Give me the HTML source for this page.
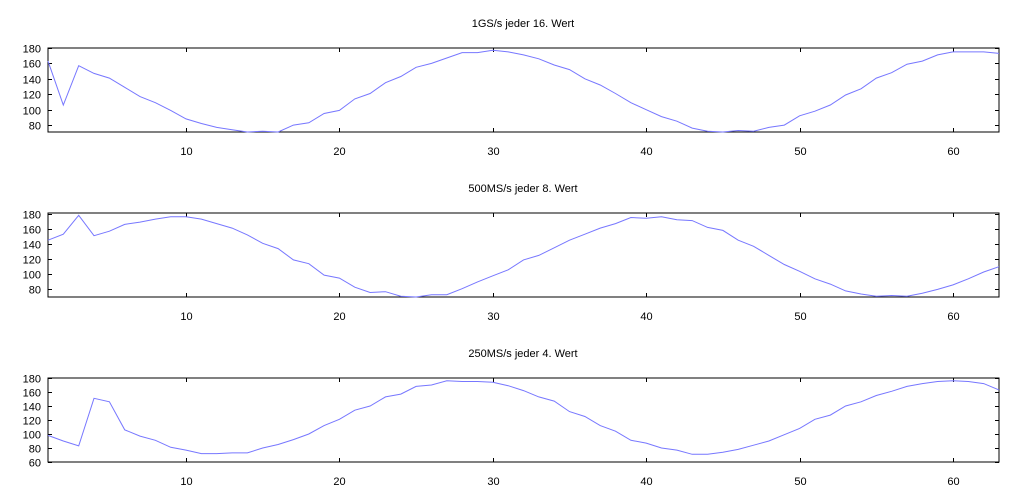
<!DOCTYPE html>
<html><head><meta charset="utf-8"><style>
html,body{margin:0;padding:0;background:#fff;}
svg{display:block;font-family:"Liberation Sans",sans-serif;}
</style></head><body>
<svg id="chart" width="1024" height="493" viewBox="0 0 1024 493"></svg>
<script>
const xs = Array.from({length:63},(_,i)=>i+1);
const series1GS = [163,106,157,147,141,129,117,109,99,88,82,77,74,71,72,71,80,83,95,99,114,121,135,143,155,160,167,174,174,177,175,171,166,158,152,140,132,121,109,100,91,85,76,72,71,73,72,77,80,92,98,106,119,127,141,148,159,163,171,175,175,175,173];
const series500MS = [145,153,178,151,157,166,169,173,176,176,173,167,161,152,141,134,119,114,99,95,83,76,77,71,70,73,73,81,90,98,106,119,125,135,145,153,161,167,175,174,176,172,171,162,158,145,137,125,113,104,94,87,78,74,71,72,71,75,80,86,94,103,110];
const series250MS = [98,90,83,151,146,106,97,91,81,77,72,72,73,73,80,85,92,100,112,121,134,140,153,157,168,170,176,175,175,174,169,162,153,147,132,125,112,104,91,87,80,77,71,71,74,78,84,90,99,108,121,127,140,146,155,161,168,172,175,176,175,172,163];
const titles = ["1GS/s jeder 16. Wert","500MS/s jeder 8. Wert","250MS/s jeder 4. Wert"];
const xTicks = [10,20,30,40,50,60];
const yTicks1 = [80,100,120,140,160,180];
const yTicks3 = [60,80,100,120,140,160,180];

const NS="http://www.w3.org/2000/svg";
const svg=document.getElementById('chart');
function mk(tag,attrs,parent){const e=document.createElementNS(NS,tag);for(const k in attrs)e.setAttribute(k,attrs[k]);(parent||svg).appendChild(e);return e;}
const panels=[
 {data:series1GS,title:titles[0],top:48,bottom:132,ymin:71,ymax:180,yt:yTicks1,key:'1gs'},
 {data:series500MS,title:titles[1],top:213,bottom:297,ymin:70,ymax:181,yt:yTicks1,key:'500ms'},
 {data:series250MS,title:titles[2],top:378,bottom:462,ymin:60,ymax:180,yt:yTicks3,key:'250ms'}
];
const L=48,R=999,xmin=1,xmax=63;
const xScale=v=>L+(v-xmin)/(xmax-xmin)*(R-L);
panels.forEach(p=>{
 const g=mk('g',{});
 
 
 const yScale=v=>p.bottom-(v-p.ymin)/(p.ymax-p.ymin)*(p.bottom-p.top);
 const t=mk('text',{x:523,y:p.top-21,'text-anchor':'middle','font-size':'11',fill:'#000'},g);
 t.textContent=p.title;
 
 
 const fr=mk('rect',{x:L,y:p.top,width:R-L,height:p.bottom-p.top,fill:'none',stroke:'#000','stroke-width':1,'shape-rendering':'crispEdges'},g);
 
 
 xTicks.forEach(v=>{
  const x=Math.round(xScale(v))+0.5;
  mk('line',{x1:x,x2:x,y1:p.top,y2:p.top+4,stroke:'#000'},g);
  mk('line',{x1:x,x2:x,y1:p.bottom,y2:p.bottom-4,stroke:'#000'},g);
  const tl=mk('text',{x:x,y:p.bottom+23,'text-anchor':'middle','font-size':'11',fill:'#000'},g);
  tl.textContent=v;
  
  
 });
 p.yt.forEach(v=>{
  const y=Math.round(yScale(v))+0.5;
  mk('line',{x1:L,x2:L+4,y1:y,y2:y,stroke:'#000'},g);
  mk('line',{x1:R,x2:R-4,y1:y,y2:y,stroke:'#000'},g);
  const tl=mk('text',{x:41,y:y+4,'text-anchor':'end','font-size':'11',fill:'#000'},g);
  tl.textContent=v;
  
  
 });
 const pts=p.data.map((v,i)=>xScale(xs[i]).toFixed(1)+','+yScale(v).toFixed(1)).join(' ');
 const line=mk('polyline',{points:pts,fill:'none',stroke:'#7777ff','stroke-width':1},g);
 
 
});
</script>
</body></html>
